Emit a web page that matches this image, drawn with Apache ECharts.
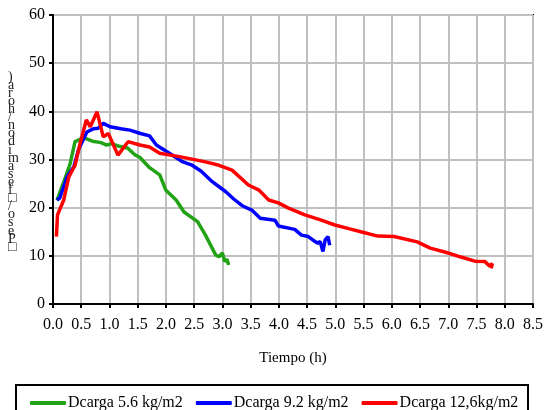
<!DOCTYPE html>
<html><head><meta charset="utf-8">
<script src="https://cdn.jsdelivr.net/npm/echarts@6/dist/echarts.min.js"></script>
<style>html,body{margin:0;padding:0;background:#fff}#c{width:546px;height:410px}</style>
</head><body><div id="c"></div>
<script>
var seriesNames = ['Dcarga 5.6 kg/m2', 'Dcarga 9.2 kg/m2', 'Dcarga 12,6kg/m2'];
var greenT = [0.07,0.22,0.30,0.39,0.50,0.57,0.70,0.85,0.95,1.05,1.15,1.32,1.45,1.54,1.71,1.89,2.00,2.18,2.32,2.56,2.70,2.88,2.94,3.00,3.04,3.08,3.11];
var greenV = [21.5,26.3,29.0,33.7,34.3,34.4,33.8,33.5,33.0,33.3,32.8,32.4,31.0,30.4,28.3,26.8,23.6,21.6,19.1,17.1,14.3,10.2,9.8,10.6,8.8,9.3,8.1];
var blueT = [0.07,0.12,0.25,0.37,0.45,0.60,0.72,0.80,0.89,1.01,1.20,1.36,1.55,1.71,1.83,2.06,2.30,2.45,2.62,2.82,3.06,3.20,3.35,3.52,3.67,3.93,3.99,4.28,4.40,4.52,4.60,4.69,4.73,4.78,4.82,4.87,4.90];
var blueV = [21.6,22.0,26.4,28.5,32.0,35.7,36.4,36.5,37.5,36.8,36.4,36.1,35.4,34.9,33.0,31.3,29.5,28.9,27.6,25.4,23.3,21.8,20.4,19.5,17.8,17.4,16.2,15.5,14.3,14.0,13.3,12.6,13.0,10.9,13.3,14.0,12.2];
var redT = [0.06,0.08,0.19,0.28,0.39,0.48,0.59,0.66,0.78,0.89,0.98,1.15,1.33,1.54,1.71,1.89,2.24,2.70,2.94,3.17,3.46,3.64,3.82,3.99,4.17,4.46,4.75,4.99,5.22,5.45,5.75,6.04,6.45,6.68,6.97,7.21,7.47,7.65,7.73,7.78,7.76];
var redV = [14.0,18.5,21.6,26.4,28.8,33.3,38.2,36.8,39.9,34.7,35.4,30.9,33.7,33.0,32.6,31.3,30.6,29.5,28.8,27.8,24.7,23.7,21.6,21.0,19.9,18.5,17.4,16.4,15.7,15.0,14.1,14.0,12.9,11.6,10.7,9.8,8.9,8.8,7.9,8.4,7.4];
var xTitle = 'Tiempo (h)';
var yTitleChars = [')','a','r','o','h','/','n','o','d','i','m','a','s','e','f','\u25A1','/','o','s','e','P','\u25A1'];

function pairs(t, v) { return t.map(function (x, i) { return [x, v[i]]; }); }
var colors = ['#22a316', '#0000ff', '#ff0000'];
var font = '"Liberation Serif", "Times New Roman", serif';

var chart = echarts.init(document.getElementById('c'), null, {renderer: 'canvas'});
chart.setOption({
  animation: false,
  textStyle: {fontFamily: font},
  grid: {left: 53, right: 9, top: 15, bottom: 106, show: true, borderColor: '#000', borderWidth: 2, backgroundColor: 'transparent'},
  xAxis: {
    type: 'value', min: 0, max: 8.5, interval: 0.5,
    name: xTitle, nameLocation: 'middle', nameGap: 47,
    nameTextStyle: {fontFamily: font, fontSize: 15, color: '#000'},
    axisLine: {lineStyle: {color: '#000', width: 2}},
    axisTick: {show: true, inside: false, length: 4, lineStyle: {color: '#000', width: 2}},
    axisLabel: {fontFamily: font, fontSize: 16, color: '#000', margin: 13, formatter: function (v) { return v.toFixed(1); }},
    splitLine: {show: true, lineStyle: {color: '#c0c0c0', width: 2}}
  },
  yAxis: {
    type: 'value', min: 0, max: 60, interval: 10,
    axisLine: {show: true, lineStyle: {color: '#000', width: 2}},
    axisTick: {show: true, inside: false, length: 4, lineStyle: {color: '#000', width: 2}},
    axisLabel: {fontFamily: font, fontSize: 16, color: '#000', margin: 8},
    splitLine: {show: true, lineStyle: {color: '#c0c0c0', width: 2}}
  },
  legend: {
    left: 25, top: 390, itemGap: 13, itemWidth: 36, itemHeight: 4, icon: 'roundRect',
    textStyle: {fontFamily: font, fontSize: 16, color: '#000', padding: [0, 0, 0, -3]},
    data: seriesNames
  },
  graphic: [
    {type: 'rect', shape: {x: 16, y: 385, width: 512, height: 40}, style: {fill: 'none', stroke: '#000', lineWidth: 2}, silent: true},
    {type: 'text', left: 8, top: 70, style: {text: yTitleChars.join('\n'), font: '14px ' + font, fill: '#222', lineHeight: 8.1, align: 'left'}, silent: true}
  ],
  series: [
    {name: seriesNames[0], type: 'line', data: pairs(greenT, greenV), showSymbol: false, lineStyle: {color: colors[0], width: 3.5}, itemStyle: {color: colors[0]}},
    {name: seriesNames[1], type: 'line', data: pairs(blueT, blueV), showSymbol: false, lineStyle: {color: colors[1], width: 3.5}, itemStyle: {color: colors[1]}},
    {name: seriesNames[2], type: 'line', data: pairs(redT, redV), showSymbol: false, lineStyle: {color: colors[2], width: 3.5}, itemStyle: {color: colors[2]}}
  ]
});
</script></body></html>
